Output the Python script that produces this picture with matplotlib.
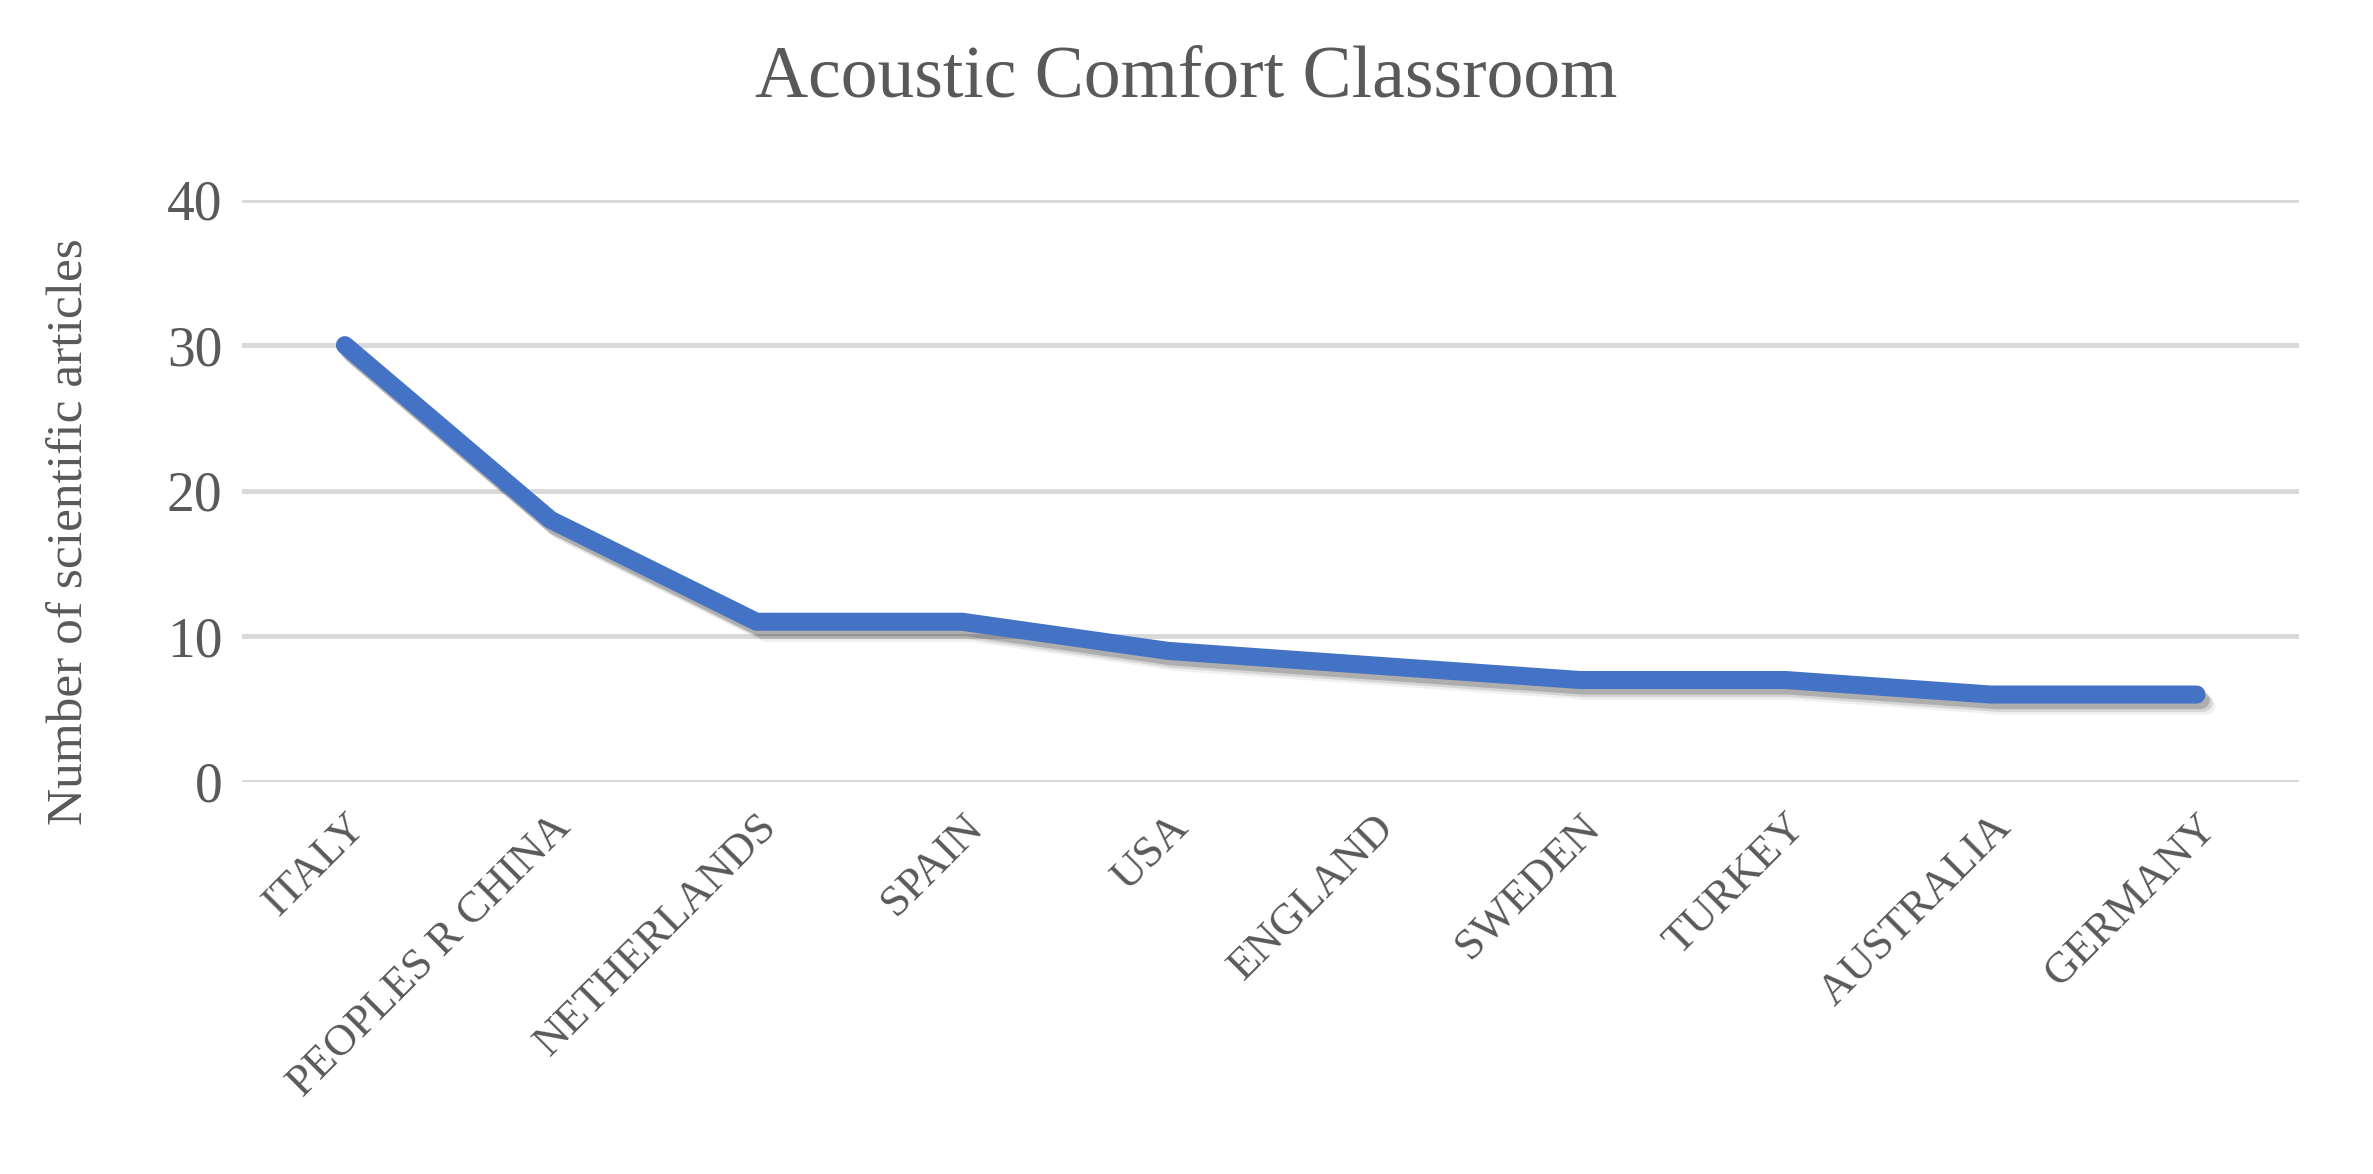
import matplotlib
matplotlib.use("Agg")
import matplotlib.pyplot as plt
import matplotlib.patheffects as pe

# ── data ────────────────────────────────────────────────────────────────────
countries = ["ITALY", "PEOPLES R CHINA", "NETHERLANDS", "SPAIN", "USA",
             "ENGLAND", "SWEDEN", "TURKEY", "AUSTRALIA", "GERMANY"]
articles  = [30, 18, 11, 11, 9, 8, 7, 7, 6, 6]
y_ticks   = [0, 10, 20, 30, 40]

TEXT   = "#595959"
GRID   = "#D9D9D9"
LINE   = "#4472C4"
FONT   = "Liberation Serif"

plt.rcParams["font.family"] = FONT

fig = plt.figure(figsize=(23.73, 11.74), dpi=100)
ax  = fig.add_axes([0.102, 0.334, 0.867, 0.496])

x = list(range(len(countries)))
# soft drop shadow: a few stacked offset strokes
shadow = [pe.SimpleLineShadow(offset=(o, -o - 1), shadow_color="black",
                              alpha=a, rho=1.0)
          for o, a in [(7, 0.06), (5, 0.11), (3, 0.18)]]
ax.plot(x, articles, color=LINE, lw=13, solid_capstyle="round",
        solid_joinstyle="round", zorder=3,
        path_effects=shadow + [pe.Normal()])

ax.set_xlim(-0.5, len(countries) - 0.5)
ax.set_ylim(0, 40)
ax.set_yticks(y_ticks)
ax.yaxis.grid(True, color=GRID, lw=3.5)
ax.set_axisbelow(True)
for s in ax.spines.values():
    s.set_visible(False)
ax.tick_params(length=0)

ax.set_xticks(x)
ax.set_xticklabels(countries, rotation=45, ha="right", va="top",
                   rotation_mode="anchor", fontsize=32, color=TEXT)
for lab in ax.get_yticklabels():
    lab.set_fontsize(40)
    lab.set_color(TEXT)
ax.tick_params(axis="y", pad=14)
ax.tick_params(axis="x", pad=18)

ax.set_ylabel("Number of scientific articles", fontsize=37, color=TEXT)
ax.yaxis.set_label_coords(-0.072, 0.43)
fig.suptitle("Acoustic Comfort Classroom", fontsize=53, color=TEXT, y=0.962)

fig.savefig("out.png", dpi=100, facecolor="white")
